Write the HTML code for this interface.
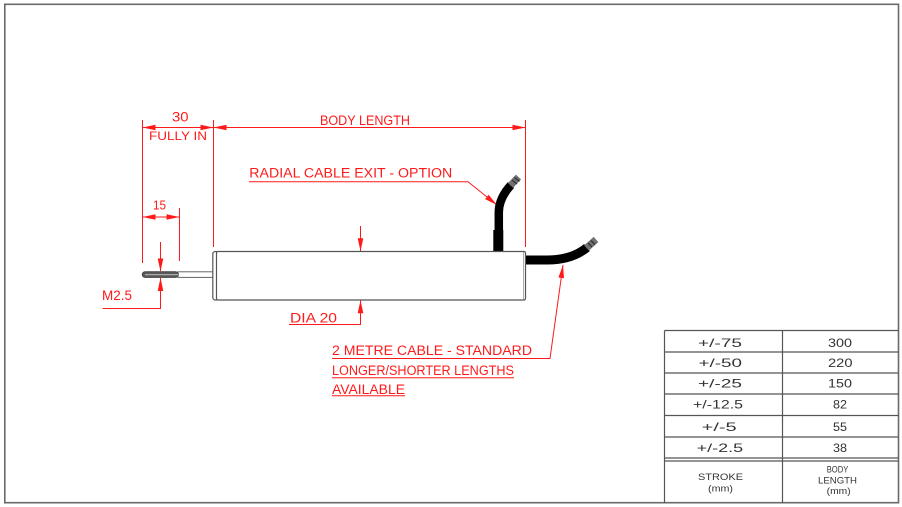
<!DOCTYPE html>
<html><head><meta charset="utf-8"><style>
html,body{margin:0;padding:0;background:#fff;}
svg{display:block;}
text{font-family:"Liberation Sans",sans-serif;}
</style></head><body>
<svg width="902" height="507" viewBox="0 0 902 507" xmlns="http://www.w3.org/2000/svg">
<rect x="0" y="0" width="902" height="507" fill="#fff"/>
<!-- frame -->
<rect x="4.8" y="4.3" width="893.7" height="498.4" fill="none" stroke="#6a6a6a" stroke-width="1.6"/>

<!-- red dimension lines -->
<g stroke="#ff1a1a" stroke-width="1" fill="none">
  <line x1="142.5" y1="120" x2="142.5" y2="263"/>
  <line x1="213.5" y1="120" x2="213.5" y2="247"/>
  <line x1="525.5" y1="120" x2="525.5" y2="247"/>
  <line x1="142.5" y1="127.5" x2="525.5" y2="127.5"/>
  <line x1="142.5" y1="217" x2="179.5" y2="217"/>
  <line x1="179.5" y1="208" x2="179.5" y2="261"/>
  <!-- M2.5 -->
  <line x1="160.5" y1="242" x2="160.5" y2="271"/>
  <polyline points="160.5,278 160.5,308.5 102.5,308.5"/>
  <!-- DIA 20 -->
  <line x1="360.5" y1="226" x2="360.5" y2="251"/>
  <polyline points="360.5,300 360.5,324.5 289,324.5"/>
  <!-- radial leader -->
  <polyline points="249,181.7 468,181.7 497,205"/>
  <!-- axial leader -->
  <polyline points="563,265 550,358.5 332,358.5"/>
  <line x1="332" y1="377.7" x2="514" y2="377.7"/>
  <line x1="332" y1="395.7" x2="405" y2="395.7"/>
</g>
<g fill="#ff1a1a" stroke="none">
  <polygon points="142.5,127.5 155.5,124.7 155.5,130.3"/>
  <polygon points="213.5,127.5 200.5,124.7 200.5,130.3"/>
  <polygon points="213.5,127.5 226.5,124.7 226.5,130.3"/>
  <polygon points="525.5,127.5 512.5,124.7 512.5,130.3"/>
  <polygon points="142.5,217 155.5,214.2 155.5,219.8"/>
  <polygon points="179.5,217 166.5,214.2 166.5,219.8"/>
  <polygon points="160.5,271.5 157.7,258.5 163.3,258.5"/>
  <polygon points="160.5,277.8 157.7,291 163.3,291"/>
  <polygon points="360.5,251.3 357.7,238.3 363.3,238.3"/>
  <polygon points="360.5,300.3 357.7,313.3 363.3,313.3"/>
  <polygon points="497,205 485.1,199.1 488.6,194.7"/>
  <polygon points="563,265 564,278.3 558.4,277.5"/>
</g>

<!-- red texts -->
<g fill="#ff1a1a">
  <text x="172" y="121.7" font-size="13.5" textLength="16.5" lengthAdjust="spacingAndGlyphs">30</text>
  <text x="149" y="140" font-size="11.5" textLength="58" lengthAdjust="spacingAndGlyphs">FULLY IN</text>
  <text x="320" y="125" font-size="13.5" textLength="90" lengthAdjust="spacingAndGlyphs">BODY LENGTH</text>
  <text x="153" y="209.3" font-size="12.5" textLength="13" lengthAdjust="spacingAndGlyphs">15</text>
  <text x="102" y="300" font-size="13.5" textLength="30" lengthAdjust="spacingAndGlyphs">M2.5</text>
  <text x="249.3" y="177.7" font-size="13.5" textLength="203" lengthAdjust="spacingAndGlyphs">RADIAL CABLE EXIT - OPTION</text>
  <text x="290" y="322.3" font-size="13.5" textLength="47" lengthAdjust="spacingAndGlyphs">DIA 20</text>
  <text x="332" y="355" font-size="13.5" textLength="200" lengthAdjust="spacingAndGlyphs">2 METRE CABLE - STANDARD</text>
  <text x="332" y="375" font-size="13.5" textLength="182" lengthAdjust="spacingAndGlyphs">LONGER/SHORTER LENGTHS</text>
  <text x="332" y="394" font-size="13.5" textLength="73" lengthAdjust="spacingAndGlyphs">AVAILABLE</text>
</g>

<!-- cables -->
<g fill="none" stroke="#000" stroke-linecap="butt">
  <path d="M498.3,252 L498.3,230" stroke-width="10"/>
  <path d="M498.8,231 L498.8,212 Q499,198 511,185" stroke-width="8.5"/>
  <path d="M524,260 L547,260 Q572,260 587,247.5" stroke-width="9"/>
</g>
<g stroke="#707070" stroke-width="7" fill="none">
  <line x1="510.5" y1="185.5" x2="518.5" y2="177"/>
  <line x1="586.5" y1="248" x2="596" y2="239.5"/>
</g>
<g stroke="#222" stroke-width="1" fill="none">
  <line x1="512" y1="180" x2="517" y2="184"/>
  <line x1="514.5" y1="177.5" x2="519.5" y2="181.5"/>
  <line x1="588" y1="243" x2="592" y2="247"/>
  <line x1="591" y1="240.5" x2="595" y2="244.5"/>
</g>

<!-- rod -->
<rect x="178" y="271.8" width="35" height="5.6" fill="#fff" stroke="#666" stroke-width="1"/>
<rect x="142.3" y="271.8" width="36" height="5.6" rx="2.8" fill="#5a5a5a" stroke="#444" stroke-width="1"/>
<line x1="145" y1="274.6" x2="178" y2="274.6" stroke="#aaa" stroke-width="1.2"/>

<!-- body -->
<rect x="212.8" y="251.5" width="6" height="48.5" rx="2.5" fill="#fff" stroke="#555" stroke-width="1.2"/>
<rect x="216.5" y="251.5" width="309" height="48.5" rx="1.5" fill="#fff" stroke="#555" stroke-width="1.2"/>
<line x1="523.5" y1="252" x2="523.5" y2="299.5" stroke="#999" stroke-width="0.8"/>

<!-- table -->
<g stroke="#555" stroke-width="1.2" fill="none">
  <line x1="664.5" y1="330.5" x2="898.5" y2="330.5"/>
  <line x1="664.5" y1="330.5" x2="664.5" y2="503"/>
  <line x1="782.5" y1="330.5" x2="782.5" y2="503"/>
  <line x1="664.5" y1="352" x2="898.5" y2="352"/>
  <line x1="664.5" y1="373" x2="898.5" y2="373"/>
  <line x1="664.5" y1="394" x2="898.5" y2="394"/>
  <line x1="664.5" y1="415.5" x2="898.5" y2="415.5"/>
  <line x1="664.5" y1="437" x2="898.5" y2="437"/>
  <line x1="664.5" y1="458" x2="898.5" y2="458"/>
  <line x1="664.5" y1="461" x2="898.5" y2="461"/>
</g>
<g fill="#333" font-size="12">
  <text x="698" y="347" textLength="44" lengthAdjust="spacingAndGlyphs">+/-75</text>
  <text x="828" y="347" textLength="24" lengthAdjust="spacingAndGlyphs">300</text>
  <text x="698.5" y="367" textLength="43.5" lengthAdjust="spacingAndGlyphs">+/-50</text>
  <text x="828" y="367" textLength="24.5" lengthAdjust="spacingAndGlyphs">220</text>
  <text x="698" y="387.5" textLength="44" lengthAdjust="spacingAndGlyphs">+/-25</text>
  <text x="828" y="387.5" textLength="24" lengthAdjust="spacingAndGlyphs">150</text>
  <text x="693" y="408.5" textLength="50" lengthAdjust="spacingAndGlyphs">+/-12.5</text>
  <text x="833" y="408.5" textLength="14" lengthAdjust="spacingAndGlyphs">82</text>
  <text x="701.7" y="431" textLength="35" lengthAdjust="spacingAndGlyphs">+/-5</text>
  <text x="833" y="431" textLength="14" lengthAdjust="spacingAndGlyphs">55</text>
  <text x="696.7" y="452" textLength="46.5" lengthAdjust="spacingAndGlyphs">+/-2.5</text>
  <text x="833" y="452" textLength="14" lengthAdjust="spacingAndGlyphs">38</text>
</g>
<g fill="#333" font-size="9.5">
  <text x="698" y="480" textLength="45" lengthAdjust="spacingAndGlyphs">STROKE</text>
  <text x="708" y="491.5" textLength="25" lengthAdjust="spacingAndGlyphs">(mm)</text>
  <text x="826.7" y="472.3" textLength="21.6" lengthAdjust="spacingAndGlyphs">BODY</text>
  <text x="818" y="483.7" textLength="39" lengthAdjust="spacingAndGlyphs">LENGTH</text>
  <text x="826.7" y="494" textLength="24" lengthAdjust="spacingAndGlyphs">(mm)</text>
</g>
</svg>
</body></html>
